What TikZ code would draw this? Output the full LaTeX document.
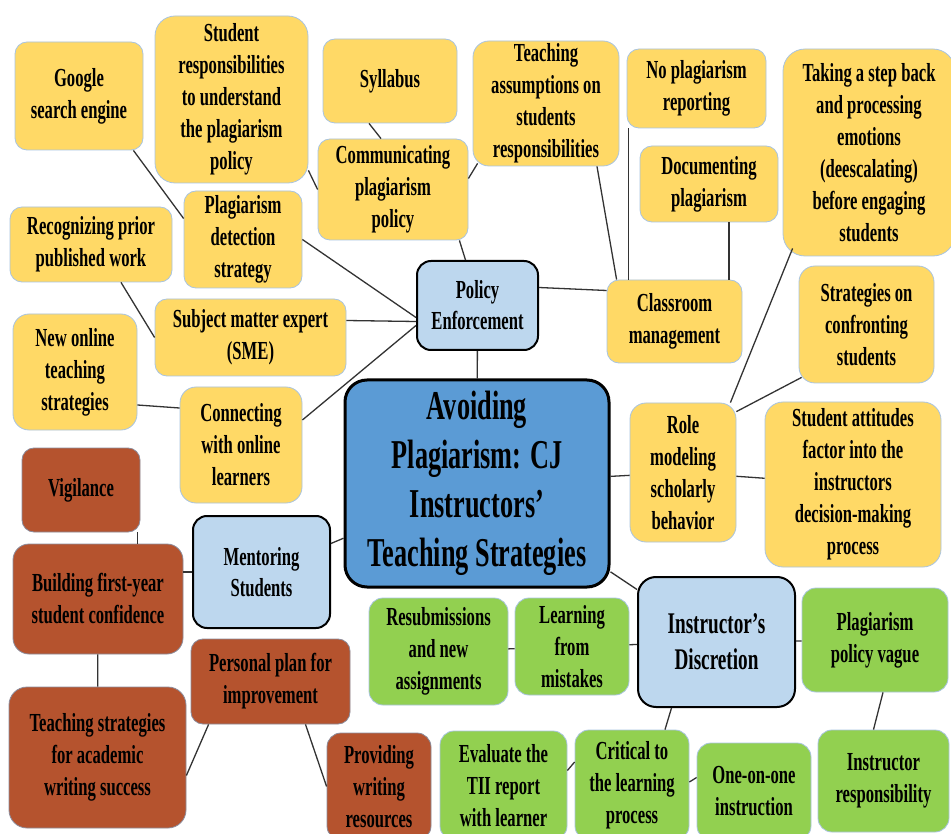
\documentclass[tikz,border=0pt]{standalone}
\usepackage{fontspec}
\setmainfont{Liberation Serif}[FakeStretch=0.64]
\definecolor{gold}{HTML}{FFD966}
\definecolor{goldline}{HTML}{A9C4E0}
\definecolor{paleblue}{HTML}{BDD7EE}
\definecolor{midblue}{HTML}{5B9BD5}
\definecolor{rust}{HTML}{B5532E}
\definecolor{rustline}{HTML}{8C8C9C}
\definecolor{leaf}{HTML}{92D050}
\definecolor{leafline}{HTML}{A9C4E0}
\begin{document}
\begin{tikzpicture}[x=1pt,y=-1pt,
    box/.style={rectangle,rounded corners=12pt,align=center,inner sep=2pt,
      font=\fontsize{26}{32}\selectfont\bfseries},
    goldbox/.style={box,fill=gold,draw=goldline,line width=0.8pt},
    rustbox/.style={box,fill=rust,draw=rustline,line width=0.8pt},
    leafbox/.style={box,fill=leaf,draw=leafline,line width=0.8pt},
    hubbox/.style={box,rounded corners=14pt,fill=paleblue,draw=black,line width=2pt,
      font=\fontsize{26}{31}\selectfont\bfseries},
    boxsize/.style 2 args={minimum width=#1,minimum height=#2}]
  \useasboundingbox[fill=white] (0,0) rectangle (951,834);

  % policy enforcement branch
  \node[goldbox,boxsize={128}{108}] (google) at (79,96) {Google\\search engine};
  \node[goldbox,rounded corners=20pt,boxsize={153}{167}] (studresp) at (231.5,99.5)
    {Student\\responsibilities\\to understand\\the plagiarism\\policy};
  \node[goldbox,boxsize={134}{84}] (syllabus) at (390,81) {Syllabus};
  \node[goldbox,boxsize={150}{101}] (communicating) at (393,189.5) {Communicating\\plagiarism\\policy};
  \node[goldbox,boxsize={118}{97}] (detection) at (243,239.5) {Plagiarism\\detection\\strategy};
  \node[goldbox,boxsize={162}{75}] (recognizing) at (91,244.5) {Recognizing prior\\published work};
  \node[goldbox,boxsize={191}{77}] (sme) at (250.5,337.5) {Subject matter expert\\(SME)};
  \node[goldbox,rounded corners=16pt,boxsize={124}{116}] (newonline) at (75,372) {New online\\teaching\\strategies};
  \node[goldbox,rounded corners=16pt,boxsize={122}{116}] (connecting) at (241,445) {Connecting\\with online\\learners};
  \node[goldbox,rounded corners=16pt,boxsize={146}{125}] (assumptions) at (546,103.5)
    {Teaching\\assumptions on\\students\\responsibilities};
  \node[goldbox,boxsize={139}{79}] (noplag) at (696.5,88.5) {No plagiarism\\reporting};
  \node[goldbox,boxsize={138}{76}] (documenting) at (709,184) {Documenting\\plagiarism};
  \node[goldbox,boxsize={135}{83}] (classroom) at (674.5,321.5) {Classroom\\management};
  \node[hubbox,boxsize={121}{89}] (policy) at (477.5,305.5) {Policy\\Enforcement};

  % role modeling branch
  \node[goldbox,rounded corners=22pt,boxsize={172}{207}] (stepback) at (869,152.5)
    {Taking a step back\\and processing\\emotions\\(deescalating)\\before engaging\\students};
  \node[goldbox,rounded corners=16pt,boxsize={135}{117}] (confronting) at (866.5,324.5)
    {Strategies on\\confronting\\students};
  \node[goldbox,rounded corners=16pt,boxsize={106}{139}] (rolemodel) at (683,472.5)
    {Role\\modeling\\scholarly\\behavior};
  \node[goldbox,rounded corners=18pt,boxsize={176}{165}] (attitudes) at (853,484.5)
    {Student attitudes\\factor into the\\instructors\\decision-making\\process};

  % centre
  \node[hubbox,fill=midblue,line width=3pt,rounded corners=22pt,boxsize={264}{207},
    font=\fontsize{41}{49}\selectfont\bfseries] (title) at (477,483.5)
    {Avoiding\\Plagiarism: CJ\\Instructors’\\Teaching Strategies};

  % mentoring branch
  \node[hubbox,boxsize={137}{112}] (mentoring) at (261.5,572) {Mentoring\\Students};
  \node[rustbox,boxsize={118}{84}] (vigilance) at (81,490) {Vigilance};
  \node[rustbox,rounded corners=16pt,boxsize={170}{110}] (building) at (98,599)
    {Building first-year\\student confidence};
  \node[rustbox,rounded corners=18pt,boxsize={177}{141}] (academic) at (97.5,757.5)
    {Teaching strategies\\for academic\\writing success};
  \node[rustbox,boxsize={159}{85}] (personal) at (270.5,681.5) {Personal plan for\\improvement};
  \node[rustbox,rounded corners=14pt,boxsize={104}{107}] (providing) at (379,786.5)
    {Providing\\writing\\resources};

  % discretion branch
  \node[hubbox,rounded corners=18pt,boxsize={157}{130},
    font=\fontsize{30}{36}\selectfont\bfseries] (discretion) at (716.5,642) {Instructor’s\\Discretion};
  \node[leafbox,rounded corners=14pt,boxsize={139}{107}] (resubmissions) at (438.5,651.5)
    {Resubmissions\\and new\\assignments};
  \node[leafbox,rounded corners=14pt,boxsize={114}{97}] (learning) at (572,646.5) {Learning\\from\\mistakes};
  \node[leafbox,rounded corners=14pt,boxsize={146}{104}] (vague) at (875,640) {Plagiarism\\policy vague};
  \node[leafbox,rounded corners=14pt,boxsize={127}{109}] (evaluate) at (503.5,785.5)
    {Evaluate the\\TII report\\with learner};
  \node[leafbox,rounded corners=14pt,boxsize={114}{110}] (critical) at (632,785)
    {Critical to\\the learning\\process};
  \node[leafbox,rounded corners=14pt,boxsize={114}{97}] (oneonone) at (754,791.5) {One-on-one\\instruction};
  \node[leafbox,rounded corners=14pt,boxsize={131}{102}] (responsibility) at (883.5,781)
    {Instructor\\responsibility};

  \begin{scope}[-,line width=1.3pt,black!80]
    \draw ([xshift=-10pt]google.south east) to ([yshift=21pt]detection.west);
    \draw ([yshift=13pt]studresp.south east) to (communicating.west);
    \draw ([xshift=-21pt]syllabus.south) to ([xshift=-12pt]communicating.north);
    \draw ([xshift=5pt,yshift=3pt]assumptions.south west) to ([yshift=11pt]communicating.east);
    \draw ([xshift=-9pt]communicating.south east) to ([xshift=-12pt]policy.north);
    \draw (detection.east) to ([yshift=-12pt]policy.west);
    \draw ([xshift=30pt]recognizing.south) to (sme.west);
    \draw ([yshift=17pt]sme.east) to ([yshift=-16pt]policy.west);
    \draw ([yshift=-33pt]newonline.east) to ([yshift=37pt]connecting.west);
    \draw ([yshift=25pt]connecting.east) to ([yshift=-20pt]policy.west);
    \draw ([yshift=18pt]policy.east) to ([yshift=31pt]classroom.west);
    \draw ([xshift=51pt]assumptions.south) to ([xshift=10pt]classroom.north west);
    \draw ([xshift=2pt]noplag.south west) to ([xshift=2pt]noplag.south west |- classroom.north);
    \draw ([xshift=20pt]documenting.south) to ([xshift=20pt]documenting.south |- classroom.north);
    \draw (policy) to (title);
    \draw (title) to (rolemodel);
    \draw ([xshift=-6pt]rolemodel.north east) to ([xshift=10pt,yshift=8pt]stepback.south west);
    \draw ([yshift=-9pt]rolemodel.north east) to ([xshift=3pt,yshift=6pt]confronting.south west);
    \draw (rolemodel) to (attitudes);
    \draw (title) to (discretion);
    \draw (title) to (mentoring);
    \draw (building.east |- mentoring.west) to (mentoring.west);
    \draw ([xshift=-3pt]vigilance.south east) to ([xshift=-3pt]vigilance.south east |- building.north);
    \draw (building) to (academic);
    \draw ([xshift=18pt]personal.south west) to ([yshift=-18pt]academic.east);
    \draw ([xshift=35pt]personal.south) to (providing.west);
    \draw (discretion) to (learning);
    \draw (learning) to (resubmissions);
    \draw (discretion) to (vague);
    \draw ([xshift=8pt]vague.south) to ([xshift=-10pt]responsibility.north);
    \draw ([xshift=-45pt]discretion.south) to ([xshift=33pt]critical.north);
    \draw ([yshift=15pt]evaluate.east) to ([yshift=23pt]critical.west);
    \draw ([yshift=3pt]critical.east) to ([yshift=14pt]oneonone.west);
  \end{scope}
\end{tikzpicture}
\end{document}
